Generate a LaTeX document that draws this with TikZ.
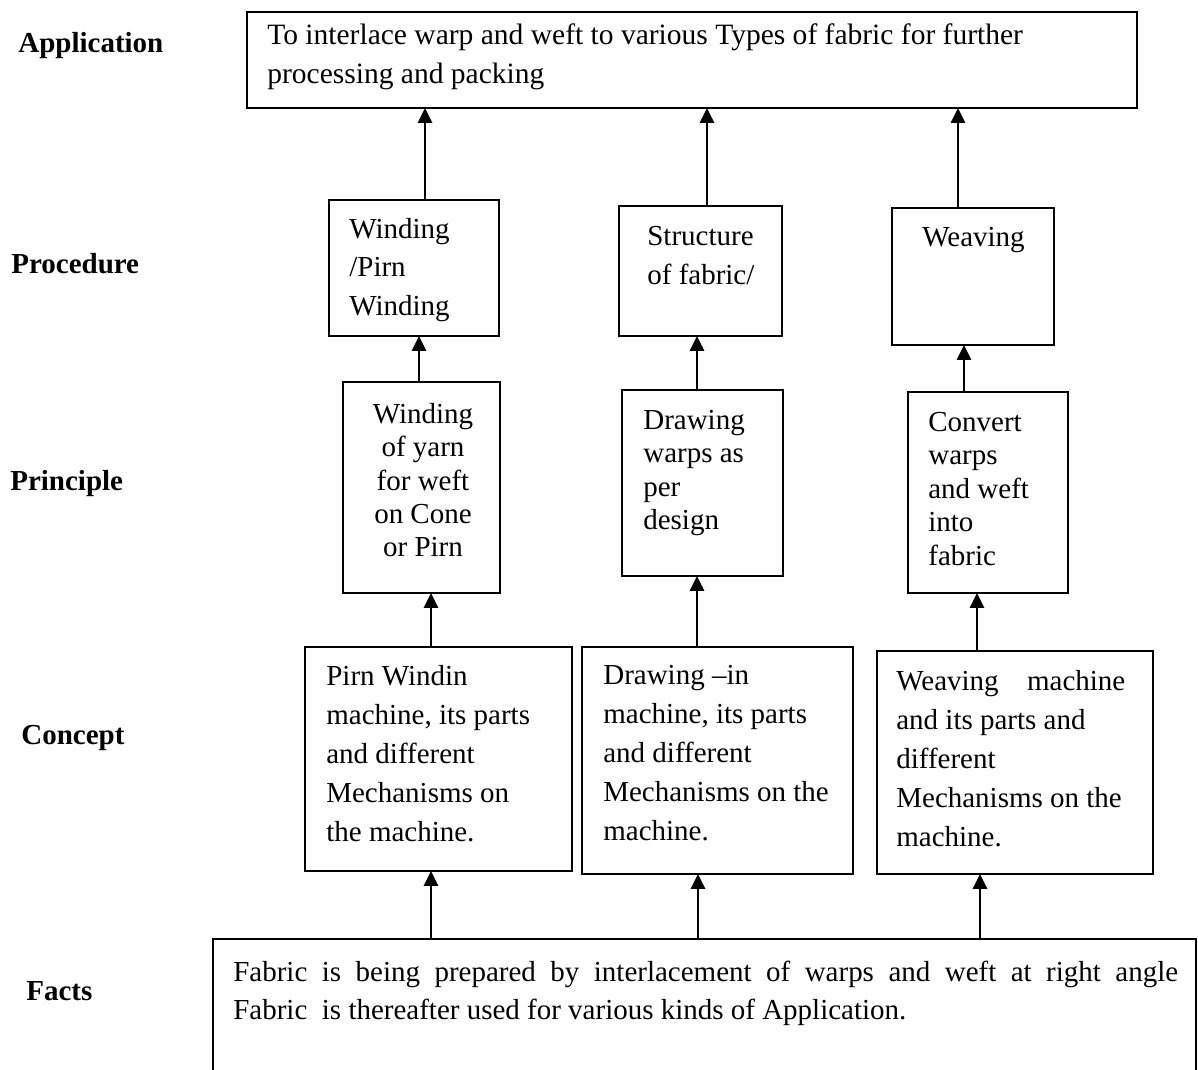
\documentclass[tikz,border=0pt]{standalone}
\usepackage{fontspec}
\setmainfont{Liberation Serif}
\usetikzlibrary{arrows.meta}

\tikzset{
  blk/.style={draw, line width=1.1pt, inner sep=0pt, outer sep=0pt, anchor=north west},
  txt/.style={anchor=north west, inner sep=0pt, align=left, font=\fontsize{16.5}{#1}\selectfont},
  txt/.default=21.9,
  tag/.style={anchor=north west, inner sep=0pt, font=\fontsize{16.5}{20}\selectfont\bfseries},
  arr/.style={line width=1.4pt, -{Triangle[width=8pt,length=8.5pt]}}
}

\begin{document}
\begin{tikzpicture}[x=0.02cm, y=-0.02cm]
  \useasboundingbox (0,0) rectangle (1198,1070);
  \clip (0,0) rectangle (1198,1070);

  % level names
  \node[tag] (lapp) at (18,32) {Application};
  \node[tag] (lproc) at (11,253) {Procedure};
  \node[tag] (lprinc) at (10,470) {Principle};
  \node[tag] (lconc) at (21,725) {Concept};
  \node[tag] (lfact) at (26,981) {Facts};

  % boxes
  \node[blk, minimum width=17.8cm, minimum height=1.92cm] (app) at (247,12) {};
  \node[blk, minimum width=3.4cm, minimum height=2.72cm] (proc1) at (329,200) {};
  \node[blk, minimum width=3.26cm, minimum height=2.6cm] (proc2) at (619,206) {};
  \node[blk, minimum width=3.24cm, minimum height=2.74cm] (proc3) at (892,208) {};
  \node[blk, minimum width=3.14cm, minimum height=4.22cm] (princ1) at (343,382) {};
  \node[blk, minimum width=3.22cm, minimum height=3.72cm] (princ2) at (622,390) {};
  \node[blk, minimum width=3.2cm, minimum height=4.02cm] (princ3) at (908,392) {};
  \node[blk, minimum width=5.34cm, minimum height=4.48cm] (conc1) at (305,647) {};
  \node[blk, minimum width=5.42cm, minimum height=4.54cm] (conc2) at (582,647) {};
  \node[blk, minimum width=5.52cm, minimum height=4.46cm] (conc3) at (877,651) {};
  \node[blk, minimum width=19.66cm, minimum height=3.2cm] (facts) at (213,939) {};

  % texts
  \node[txt=22.2, font=\fontsize{16.8}{22.2}\selectfont] (tapp) at (267,23) {To interlace warp and weft to various Types of fabric for further\\processing and packing};
  \node[txt] (tproc1) at (349,218) {Winding\\/Pirn\\Winding};
  \node[txt] (tproc2) at (647,226) {Structure\\of fabric/};
  \node[txt] (tproc3) at (922,227) {Weaving};
  \node[txt=19, align=center, anchor=north] (tprinc1) at (423,403) {Winding\\of yarn\\for weft\\on Cone\\or Pirn};
  \node[txt=19] (tprinc2) at (643,410) {Drawing\\warps as\\per\\design};
  \node[txt=19] (tprinc3) at (928,412) {Convert\\warps\\and weft\\into\\fabric};
  \node[txt=22.2] (tconc1) at (326,665) {Pirn Windin\\machine, its parts\\and different\\Mechanisms on\\the machine.};
  \node[txt=22.2] (tconc2) at (603,665) {Drawing --in\\machine, its parts\\and different\\Mechanisms on the\\machine.};
  \node[txt=22.2] (tconc3) at (896,670) {\makebox[4.58cm][s]{Weaving machine}\\and its parts and\\different\\Mechanisms on the\\machine.};
  \node[txt=21.3] (tfacts) at (233,961) {\makebox[18.9cm][s]{Fabric is being prepared by interlacement of warps and weft at right angle}\\Fabric\ \ is thereafter used for various kinds of Application.};

  % arrows upward
  \draw[arr] (proc1.north -| 425,0) -- (app.south -| 425,0);
  \draw[arr] (proc2.north -| 707,0) -- (app.south -| 707,0);
  \draw[arr] (proc3.north -| 958,0) -- (app.south -| 958,0);
  \draw[arr] (princ1.north -| 419,0) -- (proc1.south -| 419,0);
  \draw[arr] (princ2.north -| 697,0) -- (proc2.south -| 697,0);
  \draw[arr] (princ3.north -| 964,0) -- (proc3.south -| 964,0);
  \draw[arr] (conc1.north -| 431,0) -- (princ1.south -| 431,0);
  \draw[arr] (conc2.north -| 697,0) -- (princ2.south -| 697,0);
  \draw[arr] (conc3.north -| 977,0) -- (princ3.south -| 977,0);
  \draw[arr] (facts.north -| 431,0) -- (conc1.south -| 431,0);
  \draw[arr] (facts.north -| 698,0) -- (conc2.south -| 698,0);
  \draw[arr] (facts.north -| 980,0) -- (conc3.south -| 980,0);
\end{tikzpicture}
\end{document}
